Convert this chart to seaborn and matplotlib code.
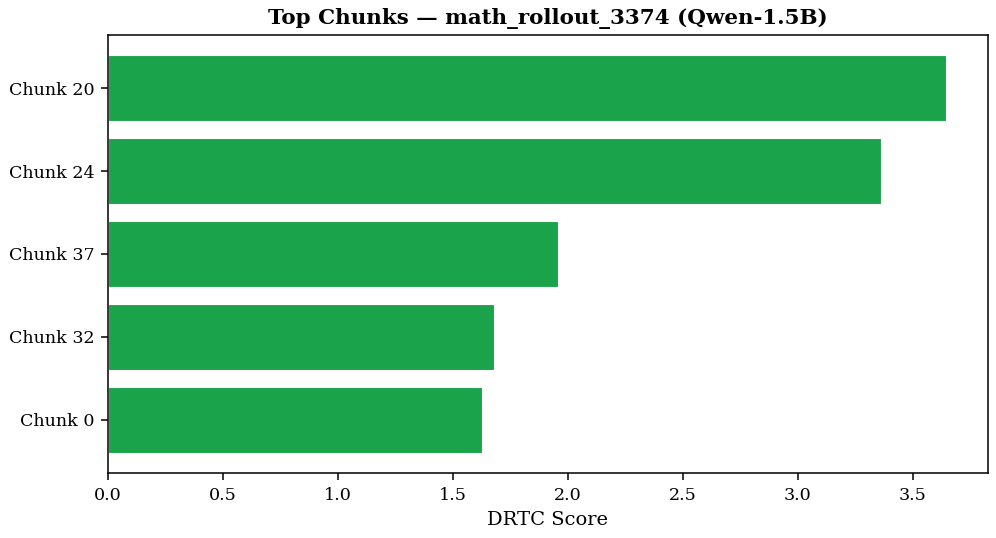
import pandas as pd
import seaborn as sns
import matplotlib.pyplot as plt

# Chunk scores (top to bottom)
chunks = ['Chunk 20', 'Chunk 24', 'Chunk 37', 'Chunk 32', 'Chunk 0']
scores = [3.645, 3.362, 1.955, 1.680, 1.627]

df = pd.DataFrame({'chunk': chunks, 'score': scores})

sns.set_style('ticks')
plt.rcParams['font.family'] = ['DejaVu Serif']
plt.rcParams['text.color'] = 'black'
plt.rcParams['axes.labelcolor'] = 'black'

fig = plt.figure(figsize=(9.96, 5.38), dpi=100)
ax = fig.add_axes([0.1084, 0.1208, 0.8836, 0.8142])

sns.barplot(data=df, x='score', y='chunk', orient='h', color='#1aa34a',
            saturation=1, width=0.8, edgecolor='white', linewidth=0.8, ax=ax)

# matplotlib-style margins around the bars
ax.set_ylim(4.64, -0.64)
ax.set_xlim(0, max(scores) * 1.05)

for side in ['top', 'right', 'left', 'bottom']:
    ax.spines[side].set_visible(True)
    ax.spines[side].set_color('black')
    ax.spines[side].set_linewidth(1.1)

ax.tick_params(axis='both', labelsize=12.6, colors='black',
               length=4.9, width=1.1, pad=4.9)
ax.set_xlabel('DRTC Score', fontsize=14, labelpad=5)
ax.set_ylabel('')
ax.set_title('Top Chunks \u2014 math_rollout_3374 (Qwen-1.5B)',
             fontsize=15.4, fontweight='bold', pad=8)

fig.savefig('out.png', dpi=100)
